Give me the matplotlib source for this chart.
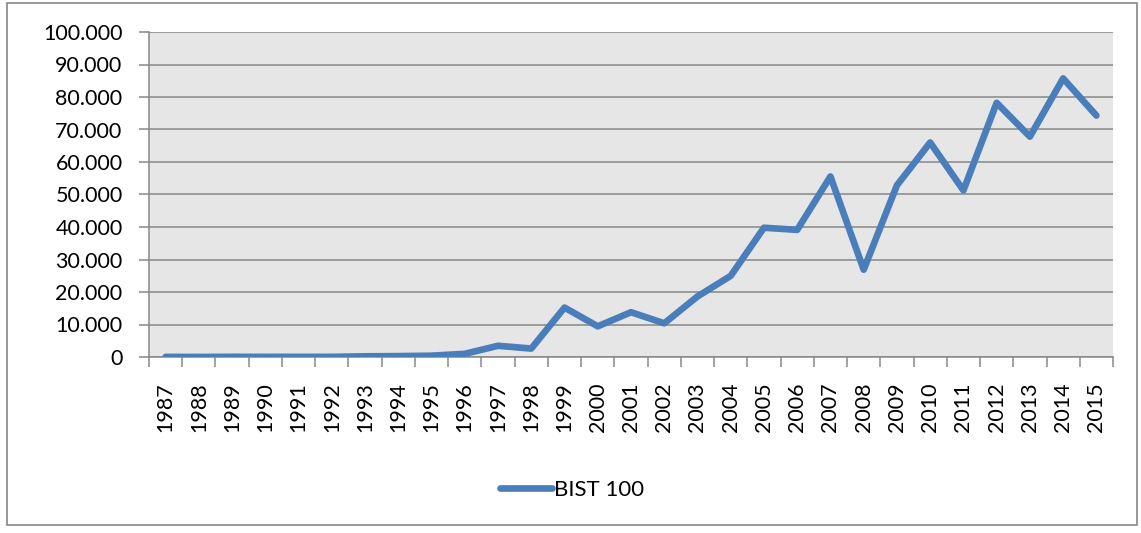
import matplotlib
matplotlib.use("Agg")
import matplotlib.pyplot as plt
from matplotlib.ticker import FuncFormatter, FixedLocator
from matplotlib.patches import Rectangle

years = [str(y) for y in range(1987, 2016)]
bist100 = [37, 14, 57, 33, 44, 40, 207, 273, 400, 976, 3451, 2597, 15209, 9437,
           13783, 10370, 18625, 24972, 39778, 39117, 55538, 26864, 52825, 66004,
           51267, 78208, 67802, 85721, 74300]
series_name = "BIST 100"

plt.rcParams['font.family'] = ['Lato', 'DejaVu Sans']

W, H = 1141, 533
fig = plt.figure(figsize=(W / 100, H / 100), dpi=100)
fig.patch.set_facecolor('white')
fig.patches.append(Rectangle((7 / W, 1 - 525 / H), (1137 - 7) / W, (525 - 3) / H,
                             transform=fig.transFigure, fill=False,
                             edgecolor='#868686', linewidth=1.2))

ax = fig.add_axes([149 / W, 1 - 357 / H, (1113 - 149) / W, (357 - 32) / H])
ax.set_facecolor('#E6E6E6')
x = list(range(len(years)))
ax.plot(x, bist100, color='#4A7EBB', linewidth=4.8, solid_capstyle='round',
        solid_joinstyle='round', label=series_name, zorder=3)

ax.set_xlim(-0.5, len(years) - 0.5)
ax.set_ylim(0, 100000)
ax.set_yticks(range(0, 100001, 10000))
ax.yaxis.set_major_formatter(FuncFormatter(lambda v, p: f"{int(v):,}".replace(",", ".")))
ax.grid(axis='y', color='#878787', linewidth=1.1, zorder=1)
ax.set_axisbelow(True)

ax.set_xticks(x)
ax.set_xticklabels(years, rotation=90)
ax.xaxis.set_minor_locator(FixedLocator([i - 0.5 for i in range(len(years) + 1)]))
ax.tick_params(axis='x', which='major', length=0, pad=18, labelsize=15.5)
ax.tick_params(axis='x', which='minor', length=7, color='#878787', width=1.1)
ax.tick_params(axis='y', length=7, color='#878787', width=1.1, labelsize=15.5, pad=12)

for s in ['top', 'right']:
    ax.spines[s].set_visible(False)
for s in ['left', 'bottom']:
    ax.spines[s].set_color('#878787')
    ax.spines[s].set_linewidth(1.1)

leg = fig.legend(loc='center', bbox_to_anchor=(572 / W, 1 - 490 / H), frameon=False,
                 fontsize=16, handlelength=2.35, handletextpad=0.1)

fig.savefig("out.png", dpi=100, facecolor='white')
